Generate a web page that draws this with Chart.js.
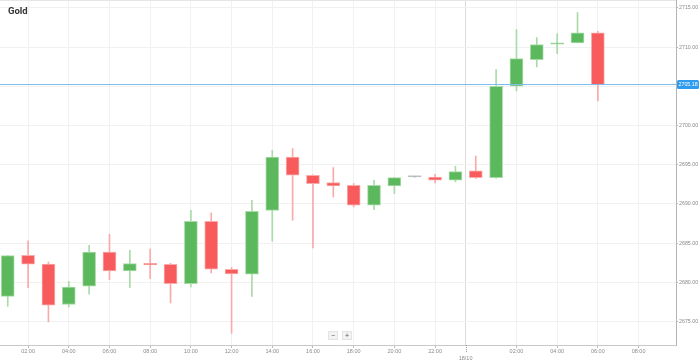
<!DOCTYPE html>
<html>
<head>
<meta charset="utf-8">
<script src="https://cdn.jsdelivr.net/npm/chart.js@4"></script>
<style>
    html, body { margin: 0; padding: 0; background: white; }
    .graph { position: relative; width: 699px; height: 362px; }
    .title { position: absolute; left: 8px; top: 5px; font: bold 9.5px Roboto, sans-serif; color: #333; }
    .zoomBtns { position: absolute; left: 328px; top: 331px; display: flex; gap: 4px; }
    .zoomBtns div { width: 8px; height: 7px; background: #f3f3f3; border: 1px solid #e4e4e4; font: 7px/7px Arial, sans-serif; text-align: center; color: #555; }
</style>
</head>
<body>
<div class="graph">
    <canvas id="chart" width="699" height="362"></canvas>
    <div class="title">Gold</div>
    <div class="zoomBtns"><div>−</div><div>+</div></div>
</div>
<script>
// hour index of each candle: 1..23 = 17/10, 24.. = 18/10
const hours  = [1, 2, 3, 4, 5, 6, 7, 8, 9, 10, 11, 12, 13, 14, 15, 16, 17, 18, 19, 20, 21, 22, 23, 24, 25, 26, 27, 28, 29, 30];
const opens  = [2678.21, 2683.44, 2682.33, 2677.16, 2679.49, 2683.86, 2681.44, 2682.42, 2682.30, 2679.83,
                2687.78, 2681.66, 2681.02, 2689.15, 2695.98, 2693.65, 2692.72, 2692.37, 2689.82, 2692.28,
                2693.43, 2693.43, 2693.01, 2694.20, 2693.35, 2705.00, 2708.40, 2710.36, 2710.52, 2711.80];
const highs  = [2683.40, 2685.27, 2682.59, 2680.13, 2684.72, 2686.12, 2684.08, 2684.25, 2682.42, 2689.18,
                2688.84, 2681.90, 2690.46, 2696.84, 2697.05, 2693.70, 2694.63, 2692.59, 2693.01, 2693.39,
                2693.48, 2693.78, 2694.80, 2696.11, 2707.13, 2712.23, 2711.21, 2711.72, 2714.40, 2712.02];
const lows   = [2676.94, 2679.32, 2674.94, 2676.85, 2678.47, 2680.34, 2679.32, 2680.47, 2677.36, 2679.40,
                2681.19, 2673.49, 2678.21, 2685.23, 2687.91, 2684.38, 2690.88, 2689.60, 2689.27, 2691.31,
                2693.38, 2692.67, 2692.80, 2693.23, 2693.23, 2704.40, 2707.46, 2709.17, 2710.52, 2703.13];
const closes = [2683.40, 2682.30, 2677.07, 2679.40, 2683.86, 2681.44, 2682.38, 2682.21, 2679.83, 2687.78,
                2681.66, 2681.06, 2689.06, 2695.98, 2693.65, 2692.59, 2692.28, 2689.82, 2692.37, 2693.35,
                2693.43, 2693.01, 2694.12, 2693.35, 2705.00, 2708.53, 2710.32, 2710.52, 2711.80, 2705.18];

const xTickValues = [2, 4, 6, 8, 10, 12, 14, 16, 18, 20, 22, 23.5, 26, 28, 30, 32];
const xTickLabels = ['02:00', '04:00', '06:00', '08:00', '10:00', '12:00', '14:00', '16:00', '18:00', '20:00', '22:00',
                     ['', '18/10'], '02:00', '04:00', '06:00', '08:00'];
const yTickValues = [2675, 2680, 2685, 2690, 2695, 2700, 2705, 2710, 2715];
const dayBreak = 23.5;

const upColor = '#5cb85c', downColor = '#f75b5b', flatColor = '#9a9a9a';
const upLight = '#a9dba9', downLight = '#f9aaaa', flatLight = '#c8c8c8';

function candleColor(i, light) {
    if (closes[i] > opens[i]) return light ? upLight : upColor;
    if (closes[i] < opens[i]) return light ? downLight : downColor;
    return light ? flatLight : flatColor;
}

const extrasPlugin = {
    id: 'extras',
    afterDraw(chart) {
        const {ctx, chartArea: {top, bottom, left, right}, scales: {x, y}} = chart;
        ctx.save();
        // top border
        ctx.strokeStyle = '#e6e6e6';
        ctx.lineWidth = 1;
        ctx.beginPath();
        ctx.moveTo(left, top + 0.5);
        ctx.lineTo(right, top + 0.5);
        ctx.stroke();

        // day separator tick under the axis
        const xd = Math.round(x.getPixelForValue(dayBreak)) + 0.5;
        ctx.strokeStyle = '#999';
        ctx.setLineDash([1, 1]);
        ctx.beginPath();
        ctx.moveTo(xd, bottom);
        ctx.lineTo(xd, bottom + 8);
        ctx.stroke();
        ctx.setLineDash([]);

        // last price line + label
        const last = closes[closes.length - 1];
        const yp = Math.floor(y.getPixelForValue(last)) + 0.5;
        ctx.strokeStyle = '#7cbdf0';
        ctx.lineWidth = 1;
        ctx.beginPath();
        ctx.moveTo(left, yp);
        ctx.lineTo(right, yp);
        ctx.stroke();
        ctx.fillStyle = '#2f9bee';
        ctx.beginPath();
        ctx.roundRect(right + 1, yp - 4.5, chart.width - right - 1, 9, 1.5);
        ctx.fill();
        ctx.fillStyle = 'white';
        ctx.font = '5.3px Arial';
        ctx.textBaseline = 'middle';
        ctx.fillText(last.toFixed(2), right + 2.5, yp + 0.5);
        ctx.restore();
    }
};

const config = {
    type: 'bar',
    data: {
        datasets: [
            {
                label: 'wick',
                data: hours.map((h, i) => ({x: h, y: [lows[i], highs[i]]})),
                backgroundColor: hours.map((h, i) => candleColor(i, true)),
                barThickness: 1,
                grouped: false,
                order: 2
            },
            {
                label: 'body',
                data: hours.map((h, i) => ({x: h, y: [opens[i], closes[i]]})),
                backgroundColor: hours.map((h, i) => candleColor(i, false)),
                borderColor: hours.map((h, i) => candleColor(i, true)),
                borderWidth: 1,
                borderSkipped: false,
                barThickness: 13,
                minBarLength: 1.5,
                grouped: false,
                order: 1
            }
        ]
    },
    options: {
        responsive: false,
        animation: false,
        layout: {padding: 0},
        plugins: {legend: {display: false}, tooltip: {enabled: false}},
        scales: {
            x: {
                type: 'linear',
                min: 0.62,
                max: 33.84,
                offset: false,
                afterBuildTicks: (scale) => { scale.ticks = xTickValues.map(v => ({value: v})); },
                afterFit: (scale) => { scale.height = 17; scale.paddingLeft = 0; scale.paddingRight = 0; },
                ticks: {
                    autoSkip: false,
                    maxRotation: 0,
                    padding: 0,
                    color: '#8a8a8a',
                    font: {size: 5.5, family: 'Arial', lineHeight: 1.25},
                    callback: (value, index) => xTickLabels[index]
                },
                grid: {
                    offset: false,
                    color: (ctx) => (ctx.tick && ctx.tick.value === dayBreak) ? '#dcdcdc' : '#f1f1f1',
                    tickColor: (ctx) => (ctx.tick && ctx.tick.value === dayBreak) ? 'rgba(0,0,0,0)' : '#bbb',
                    tickLength: 3
                },
                border: {color: '#c8c8c8'}
            },
            y: {
                position: 'right',
                min: 2672,
                max: 2716,
                afterBuildTicks: (scale) => { scale.ticks = yTickValues.map(v => ({value: v})); },
                afterFit: (scale) => { scale.width = 23; scale.paddingTop = 0; scale.paddingBottom = 0; },
                ticks: {
                    padding: 1,
                    color: '#8a8a8a',
                    font: {size: 5.3, family: 'Arial'},
                    callback: (value) => value.toFixed(2)
                },
                grid: {color: '#f1f1f1', tickColor: '#bbb', tickLength: 2},
                border: {color: '#b4b4b4'}
            }
        }
    },
    plugins: [extrasPlugin]
};

new Chart(document.getElementById('chart'), config);
</script>
</body>
</html>
